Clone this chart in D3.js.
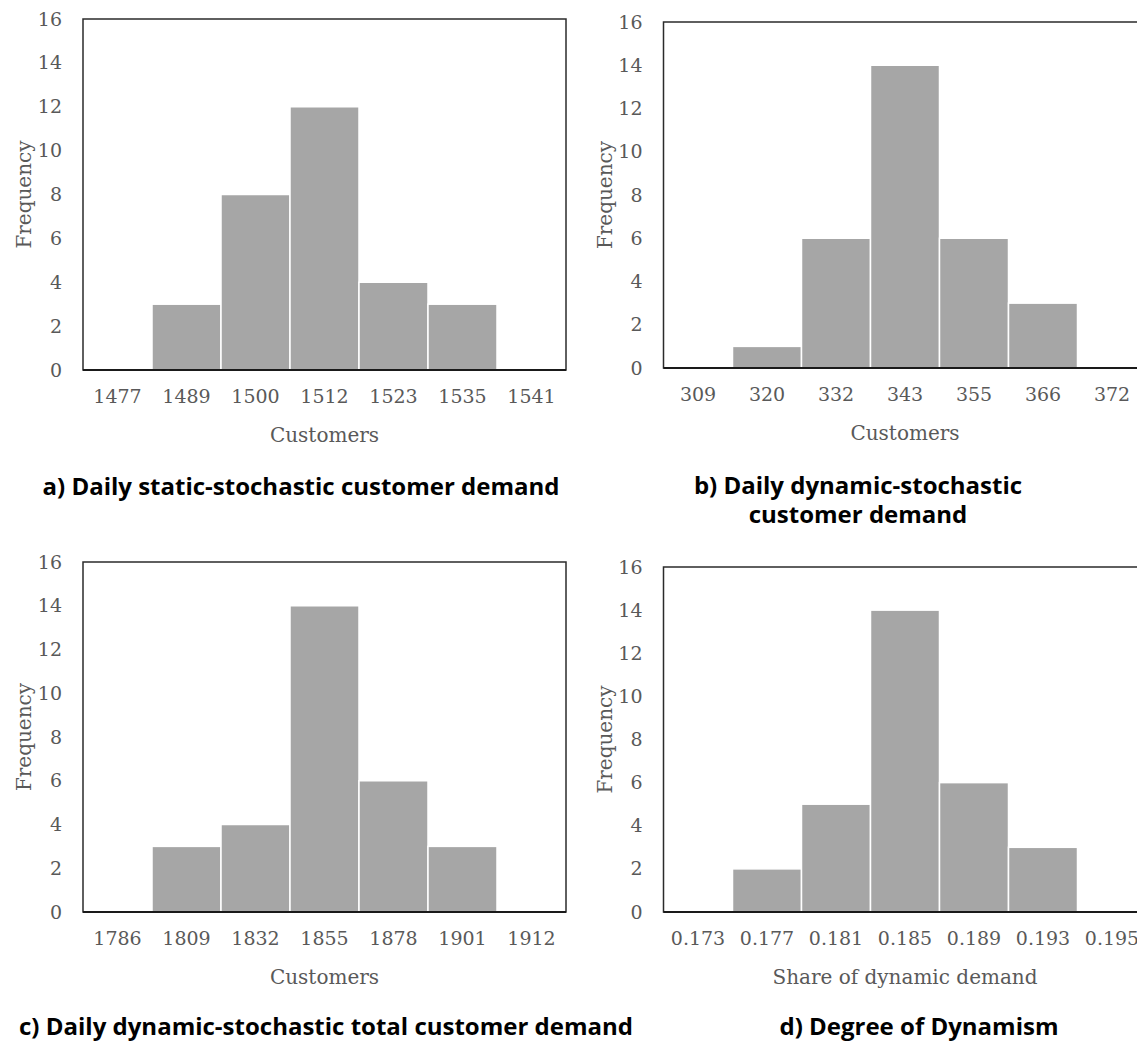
<!DOCTYPE html>
<html>
<head>
<meta charset="utf-8">
<script src="https://cdn.jsdelivr.net/npm/d3@7"></script>
<style>
  html, body { margin: 0; padding: 0; background: #fff; }
  svg { display: block; }
</style>
</head>
<body>
<svg id="chart" width="1137" height="1043"></svg>
<script>
// ---- Data ----
const binsA = ["1477", "1489", "1500", "1512", "1523", "1535", "1541"];
const freqA = [0, 3, 8, 12, 4, 3, 0];

const binsB = ["309", "320", "332", "343", "355", "366", "372"];
const freqB = [0, 1, 6, 14, 6, 3, 0];

const binsC = ["1786", "1809", "1832", "1855", "1878", "1901", "1912"];
const freqC = [0, 3, 4, 14, 6, 3, 0];

const binsD = ["0.173", "0.177", "0.181", "0.185", "0.189", "0.193", "0.195"];
const freqD = [0, 2, 5, 14, 6, 3, 0];

const yTicks = [0, 2, 4, 6, 8, 10, 12, 14, 16];
const yMax = 16;
const yTitle = "Frequency";
const xTitles = ["Customers", "Customers", "Customers", "Share of dynamic demand"];
const captions = [
  ["a) Daily static-stochastic customer demand"],
  ["b) Daily dynamic-stochastic", "customer demand"],
  ["c) Daily dynamic-stochastic total customer demand"],
  ["d) Degree of Dynamism"]
];

// ---- Layout ----
const panels = [
  { bins: binsA, freq: freqA, x0: 83,  x1: 566,  y0: 19,  y1: 370, capX: 301, capY: 487 },
  { bins: binsB, freq: freqB, x0: 663.5, x1: 1146.5, y0: 22,  y1: 368, capX: 858, capY: 486 },
  { bins: binsC, freq: freqC, x0: 83,  x1: 566,  y0: 562, y1: 912, capX: 326, capY: 1027 },
  { bins: binsD, freq: freqD, x0: 663.5, x1: 1146.5, y0: 567, y1: 912, capX: 919, capY: 1027 }
];

const svg = d3.select("#chart");
const serif = "'DejaVu Serif', Cambria, serif";
const labelColor = "#595959";

panels.forEach((p, i) => {
  const g = svg.append("g");
  const x = d3.scaleBand().domain(p.bins).range([p.x0, p.x1]).padding(0);
  const y = d3.scaleLinear().domain([0, yMax]).range([p.y1, p.y0]);

  // frame
  g.append("rect")
    .attr("x", p.x0).attr("y", p.y0)
    .attr("width", p.x1 - p.x0).attr("height", p.y1 - p.y0)
    .attr("fill", "#fff")
    .attr("stroke", "#2b2b2b")
    .attr("stroke-width", 1.5);

  // bars
  g.selectAll("rect.bar")
    .data(p.bins.map((b, k) => ({ bin: b, v: p.freq[k] })))
    .join("rect")
    .attr("class", "bar")
    .attr("x", d => x(d.bin))
    .attr("y", d => y(d.v))
    .attr("width", x.bandwidth())
    .attr("height", d => y(0) - y(d.v))
    .attr("fill", "#a6a6a6")
    .attr("stroke", "#ffffff")
    .attr("stroke-width", 1.5);

  // bottom axis line
  g.append("line")
    .attr("x1", p.x0).attr("x2", p.x1)
    .attr("y1", y(0)).attr("y2", y(0))
    .attr("stroke", "#1a1a1a")
    .attr("stroke-width", 2.2);

  // y axis
  const yAxis = g.append("g")
    .attr("transform", `translate(${p.x0 - 10},0)`)
    .call(d3.axisLeft(y).tickValues(yTicks).tickSize(0).tickPadding(11));
  yAxis.select(".domain").remove();
  yAxis.selectAll("text")
    .attr("font-family", serif)
    .attr("font-size", 19)
    .attr("fill", labelColor);

  // x axis
  const xAxis = g.append("g")
    .attr("transform", `translate(0,${y(0)})`)
    .call(d3.axisBottom(x).tickSize(0).tickPadding(20));
  xAxis.select(".domain").remove();
  xAxis.selectAll("text")
    .attr("font-family", serif)
    .attr("font-size", 19)
    .attr("fill", labelColor);

  // y title
  const cy = (p.y0 + p.y1) / 2;
  g.append("text")
    .attr("transform", `translate(${p.x0 - 59},${cy}) rotate(-90)`)
    .attr("text-anchor", "middle")
    .attr("dy", "0.35em")
    .attr("font-family", serif)
    .attr("font-size", 20)
    .attr("fill", labelColor)
    .text(yTitle);

  // x title
  g.append("text")
    .attr("x", (p.x0 + p.x1) / 2)
    .attr("y", p.y1 + 65)
    .attr("text-anchor", "middle")
    .attr("dy", "0.35em")
    .attr("font-family", serif)
    .attr("font-size", 20)
    .attr("fill", labelColor)
    .text(xTitles[i]);

  // caption
  const cap = g.append("text")
    .attr("text-anchor", "middle")
    .attr("font-family", "'Open Sans', sans-serif")
    .attr("font-weight", "bold")
    .attr("font-size", 24)
    .attr("fill", "#000");
  captions[i].forEach((line, k) => {
    cap.append("tspan")
      .attr("x", p.capX)
      .attr("y", p.capY + k * 29)
      .attr("dy", "0.35em")
      .text(line);
  });
});
</script>
</body>
</html>
